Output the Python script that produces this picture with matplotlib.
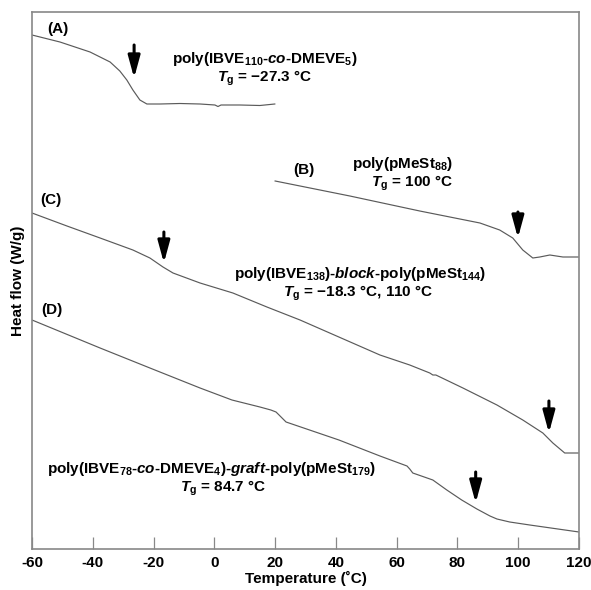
import numpy as np
import matplotlib
matplotlib.use('Agg')
import matplotlib.pyplot as plt

plt.rcParams['font.family'] = ['Liberation Sans', 'DejaVu Sans']
plt.rcParams['font.weight'] = 'bold'
plt.rcParams['mathtext.fontset'] = 'custom'
plt.rcParams['mathtext.rm'] = 'Liberation Sans:bold'
plt.rcParams['mathtext.it'] = 'Liberation Sans:italic:bold'
plt.rcParams['mathtext.bf'] = 'Liberation Sans:bold'
plt.rcParams['mathtext.default'] = 'rm'

# DSC 曲线数据 (温度 °C, 热流 任意单位)
temp_a = [-60, -50.8, -40.9, -34.3, -31.1, -28.8, -26.8, -24.5, -22.2, -17.9, -11.3, -4.7, 0.2, 1.2, 2.2, 8.4, 15.0, 19.9]
flow_a = [514, 507, 497, 487, 478, 469, 459, 449, 445, 445, 445.5, 445, 444, 442.5, 444, 444, 443.5, 445]

temp_b = [20, 44.6, 67.6, 87.4, 93.9, 98.2, 101.5, 104.8, 107.1, 110.4, 114.7, 120]
flow_b = [368, 353, 338, 326, 319, 311, 299, 291, 292, 294, 292, 292]

temp_c = [-60, -48.5, -37.6, -26.8, -21.2, -16.9, -13.6, -4.7, 6.1, 17.3, 28.2, 54.5, 64.3, 70.9, 71.9, 72.9,
          81.8, 93.0, 101.5, 108.1, 111.4, 115.3, 120]
flow_c = [336, 323, 311, 299, 291, 282, 276, 266, 256, 242, 229, 194, 184, 176, 174, 174,
          161, 144, 129, 116, 106, 96, 96]

temp_d = [-60, -37.6, -21.2, -4.7, 5.8, 15.0, 18.6, 20.3, 21.3, 23.6, 41.0, 54.5, 63.4, 64.3, 65.3,
          71.9, 76.5, 81.4, 86.4, 90.7, 93.0, 97.2, 103.8, 120]
flow_d = [229, 201, 181, 161, 149, 142, 139, 137, 134, 127, 109, 93, 83, 80, 76,
          69, 59, 49, 40, 33, 30, 27, 24, 17]

# 箭头 (Tg 位置)
arrow_t = [-26.4, 99.9, -16.6, 110.1, 86.0]
arrow_tip = [471, 311, 286, 116, 46]
arrow_tail = [504, 337, 317, 148, 77]

xticks = [-60, -40, -20, 0, 20, 40, 60, 80, 100, 120]
xticklabels = ['-60', '-40', '-20', '0', '20', '40', '60', '80', '100', '120']

fig = plt.figure(figsize=(5.91, 5.90), dpi=100)
ax = fig.add_axes([32/591, 1-549/590, 547/591, 537/590])

line_kw = dict(color='#5a5a5a', lw=0.85)
ax.plot(temp_a, flow_a, **line_kw)
ax.plot(temp_b, flow_b, **line_kw)
ax.plot(temp_c, flow_c, **line_kw)
ax.plot(temp_d, flow_d, **line_kw)

for t, tip, tail in zip(arrow_t, arrow_tip, arrow_tail):
    ax.annotate('', xy=(t, tip), xytext=(t, tail),
                arrowprops=dict(arrowstyle='-|>,head_length=1.1,head_width=0.3',
                                lw=2.2, color='k', shrinkA=0, shrinkB=0, mutation_scale=12))

fs = 11
def lab(x, y, s, ha='center'):
    ax.text(x, y, s, ha=ha, va='center', fontsize=fs, fontweight='bold')

tg = '$\\mathit{T}_{\\rm g}$ = '
lab(-55.1, 520, '(A)', ha='left')
lab(16.6, 490, r'poly(IBVE$_{110}$-$\mathit{co}$-DMEVE$_{5}$)')
lab(16.5, 471, tg + '\u221227.3 \u00b0C')

lab(29.5, 379, '(B)')
lab(62, 385, r'poly(pMeSt$_{88}$)')
lab(65, 366, tg + '100 \u00b0C')

lab(-57.4, 349, '(C)', ha='left')
lab(48, 275, r'poly(IBVE$_{138}$)-$\mathit{block}$-poly(pMeSt$_{144}$)')
lab(47.5, 256, tg + '\u221218.3 \u00b0C, 110 \u00b0C')

lab(-57, 239, '(D)', ha='left')
lab(-0.8, 80, r'poly(IBVE$_{78}$-$\mathit{co}$-DMEVE$_{4}$)-$\mathit{graft}$-poly(pMeSt$_{179}$)')
lab(2.8, 61, tg + '84.7 \u00b0C')

ax.set_xlim(-60, 120)
ax.set_ylim(0, 537)
ax.set_xticks(xticks)
ax.set_xticklabels(xticklabels, fontsize=fs, fontweight='bold')
ax.set_yticks([])
ax.tick_params(axis='x', direction='in', length=9, width=0.9, color='#888888', pad=5)
for sp in ax.spines.values():
    sp.set_color('#888888')
    sp.set_linewidth(1.2)

ax.set_xlabel('Temperature (\u02daC)', fontsize=fs, fontweight='bold', labelpad=1)
ax.set_ylabel('Heat flow (W/g)', fontsize=fs, fontweight='bold', labelpad=5)

fig.savefig('out.png', dpi=100)
